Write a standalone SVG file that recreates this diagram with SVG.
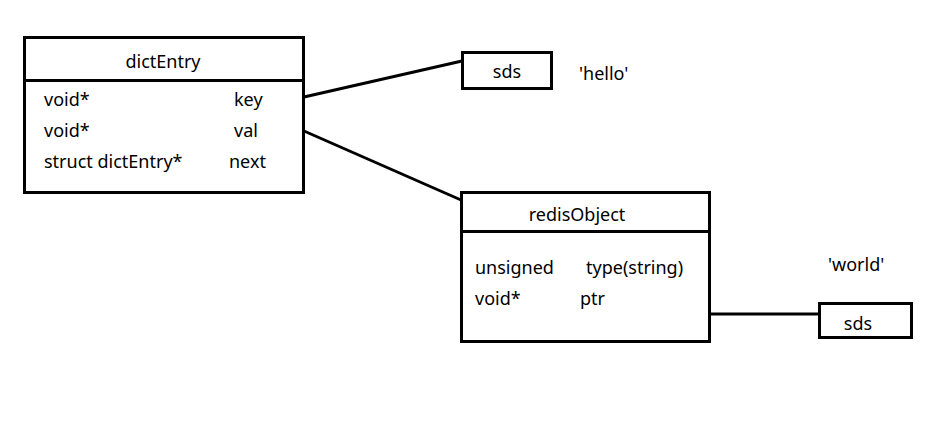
<svg xmlns="http://www.w3.org/2000/svg" width="928" height="439" viewBox="0 0 928 439">
<style>
.box{fill:#fff;stroke:#000;stroke-width:3}
.ln{stroke:#000;stroke-width:3;fill:none}
text{font-family:"Noto Sans","Open Sans",sans-serif;font-size:18px;fill:#000}
.c{text-anchor:middle}
</style>
<rect width="928" height="439" fill="#fff"/>
<g id="connectors">
<line class="ln" x1="304" y1="97" x2="462" y2="61"/>
<line class="ln" x1="304" y1="131" x2="461" y2="200"/>
<line class="ln" x1="710" y1="314" x2="819" y2="314"/>
</g>
<g id="dictEntry">
<rect class="box" x="24.5" y="37.5" width="279" height="155"/>
<line class="ln" x1="24" y1="80.5" x2="304" y2="80.5"/>
<text class="c" x="163" y="68">dictEntry</text>
<text x="44" y="106">void*</text>
<text x="234" y="106">key</text>
<text x="44" y="137">void*</text>
<text x="234" y="137">val</text>
<text x="44" y="168">struct dictEntry*</text>
<text x="229" y="168">next</text>
</g>
<g id="sds1">
<rect class="box" x="462.5" y="52.5" width="89" height="36"/>
<text class="c" x="507" y="78">sds</text>
</g>
<g id="hello">
<text x="579" y="80">'hello'</text>
</g>
<g id="redisObject">
<rect class="box" x="461.5" y="192.5" width="248" height="149"/>
<line class="ln" x1="461" y1="231.5" x2="710" y2="231.5"/>
<text class="c" x="577" y="221">redisObject</text>
<text x="475" y="274">unsigned</text>
<text x="586" y="274">type(string)</text>
<text x="475" y="305">void*</text>
<text x="580" y="305">ptr</text>
</g>
<g id="world">
<text x="828" y="271">'world'</text>
</g>
<g id="sds2">
<rect class="box" x="819.5" y="303.5" width="92" height="34"/>
<text class="c" x="858" y="330">sds</text>
</g>
</svg>
